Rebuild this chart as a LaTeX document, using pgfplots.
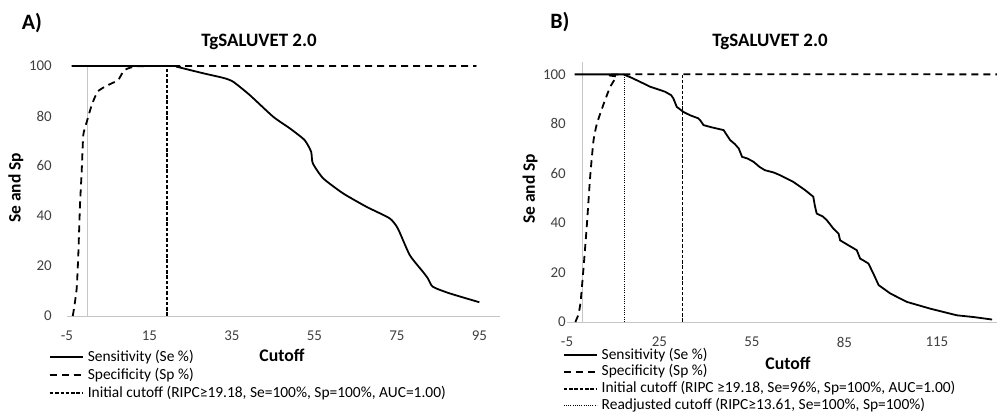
\documentclass[border=0pt]{standalone}
\usepackage{pgfplots}
\pgfplotsset{compat=1.18}
\usepackage{fontspec}
\setmainfont{Carlito}

\pgfplotsset{
  roc/.style={
    scale only axis,
    anchor=south west,
    clip=false,
    axis line style={draw=none},
    major tick length=0pt,
    tick style={draw=none},
    ymin=0,
    ytick={0,20,...,100},
    /pgf/number format/assume math mode=true,
    tick label style={font=\fontsize{15}{17}\selectfont, text=black!75},
    xticklabel style={anchor=north, inner sep=0pt, yshift=-15bp},
    legend cell align=left,
    legend style={draw=none, fill=none, inner sep=0pt, column sep=4bp,
      font=\fontsize{15.5}{17}\selectfont,
      nodes={inner sep=0pt, text height=11bp, text depth=3bp}},
    legend image code/.code={\draw[##1] (0bp,0bp) -- (33bp,0bp);},
  },
  seline/.style={black, line width=1.8bp},
  spline/.style={black, line width=1.8bp, dash pattern=on 7bp off 5bp},
  cutline/.style={black, line width=1.8bp, dash pattern=on 3.5bp off 1.8bp},
  readjline/.style={black, line width=1.4bp, dash pattern=on 1bp off 1.2bp},
}

\begin{document}
\begin{tikzpicture}
\path[use as bounding box] (0,0) rectangle (997bp,416bp);

% ---------------- panel A ----------------
\begin{axis}[roc,
  at={(67bp,100bp)}, width=433bp, height=250bp,
  xmin=-5, xmax=100, ymax=100,
  xtick={-5,15,...,95},
  yticklabel style={anchor=east, inner sep=0pt, xshift=-15bp},
  legend style={at={(-0.042,-0.136)}, anchor=north west, row sep=4bp},
]
\draw[gray!45, line width=0.8bp] (axis cs:-5,0) -- (axis cs:100,0);
\draw[gray!45, line width=0.8bp] (axis cs:0,0) -- (axis cs:0,100);

\addplot[seline, smooth, tension=0.35] coordinates {
  (-3.9,100) (20.5,100) (21.6,99.7) (28,97.1) (33,95.2) (35.3,93.7) (39.3,88.4)
  (45,79.7) (49,75.1) (52.6,70.4) (54.2,65.7) (54.6,61.1) (57.1,55.1)
  (61.9,49.1) (67.6,43.7) (73.2,39.1) (75.2,35.1) (78.1,24.4) (81.3,17.7)
  (82.5,15.1) (83.7,11.7) (87.7,9.1) (95,5.5)
};
\addlegendentry{Sensitivity (Se \%)}

\addplot[spline, smooth, tension=0.3] coordinates {
  (-3.6,0) (-3.3,3) (-2.65,11) (-2.26,24.4) (-1.85,44.4) (-1.44,57.7)
  (-1.05,72.4) (-0.2,77.7) (1,84.4) (2.4,89.7) (4.5,92) (7.4,94.4)
  (8.8,98.2) (11,99.6) (17,100) (94.3,100)
};
\addlegendentry{Specificity (Sp \%)}

\addplot[cutline] coordinates {(19.18,0) (19.18,100)};
\addlegendentry{Initial cutoff (RIPC≥19.18, Se=100\%, Sp=100\%, AUC=1.00)}
\end{axis}

% ---------------- panel B ----------------
\begin{axis}[roc,
  at={(567bp,94bp)}, width=430bp, height=260bp,
  xmin=-5, xmax=134.5, ymax=105,
  xtick={-5,25,...,115},
  yticklabel style={anchor=east, inner sep=0pt, xshift=-1bp},
  legend style={at={(-0.01,-0.1)}, anchor=north west, row sep=2.7bp},
]
\draw[gray!45, line width=0.8bp] (axis cs:-5,0) -- (axis cs:134.5,0);
\draw[gray!45, line width=0.8bp] (axis cs:0,0) -- (axis cs:0,105);

\addplot[seline] coordinates {
  (-2.5,100) (13.3,100) (16,98.6) (18.7,97) (22,95) (26.8,93) (28.8,91.6)
  (29.5,90.3) (30.6,86.9) (32.8,84.8) (34.9,83.5) (37.5,82.3) (38.2,81.5)
  (39.3,79.5) (42,78.6) (45.8,77.5) (47.9,73.5) (49.5,71.8) (50.7,70.1)
  (51.8,66.7) (53.6,66) (55.5,64.7) (57.5,62.6) (59.2,61.3) (62,60.4)
  (64.1,59.3) (68.4,56.6) (72.2,53.3) (74.9,50.6) (75.4,47) (76,43.8)
  (78,42.6) (79.3,41.1) (81.5,37.6) (83.1,35.7) (83.6,33) (86,31.2)
  (89,29) (90.1,25.6) (91.5,24.6) (92.8,23.6) (94.4,19.5) (96.1,14.9)
  (99.9,11.5) (105.3,8.1) (112.8,5.4) (121.5,2.7) (126.9,2.0) (132.9,1.0)
};
\addlegendentry{Sensitivity (Se \%)}

\addplot[spline, smooth, tension=0.3] coordinates {
  (-2.3,0) (-1.3,3) (-0.6,8) (0.3,20.9) (1.4,38.4) (2.5,58.5) (3.6,73.3)
  (4.7,80.1) (6.9,88.1) (9,94.9) (11.1,99) (13.3,100) (134.5,100)
};
\addlegendentry{Specificity (Sp \%)}

\addplot[cutline] coordinates {(32.5,0) (32.5,100)};
\addlegendentry{Initial cutoff (RIPC ≥19.18, Se=96\%, Sp=100\%, AUC=1.00)}

\addplot[readjline] coordinates {(13.61,0) (13.61,100)};
\addlegendentry{Readjusted cutoff (RIPC≥13.61, Se=100\%, Sp=100\%)}
\end{axis}

% ---------------- texts ----------------
\node[font=\bfseries\fontsize{22}{24}\selectfont, anchor=base] at (32bp,386bp) {A)};
\node[font=\bfseries\fontsize{22}{24}\selectfont, anchor=base] at (560bp,387bp) {B)};
\node[font=\bfseries\fontsize{19}{21}\selectfont, anchor=base] at (259bp,369bp) {TgSALUVET 2.0};
\node[font=\bfseries\fontsize{19}{21}\selectfont, anchor=base] at (770bp,369bp) {TgSALUVET 2.0};
\node[font=\bfseries\fontsize{17.8}{19}\selectfont, anchor=base] at (282bp,54bp) {Cutoff};
\node[font=\bfseries\fontsize{17.8}{19}\selectfont, anchor=base] at (788bp,46bp) {Cutoff};
\node[font=\bfseries\fontsize{17.5}{19}\selectfont, rotate=90] at (16bp,228bp) {Se and Sp};
\node[font=\bfseries\fontsize{17.5}{19}\selectfont, rotate=90] at (530bp,227bp) {Se and Sp};
\end{tikzpicture}
\end{document}
